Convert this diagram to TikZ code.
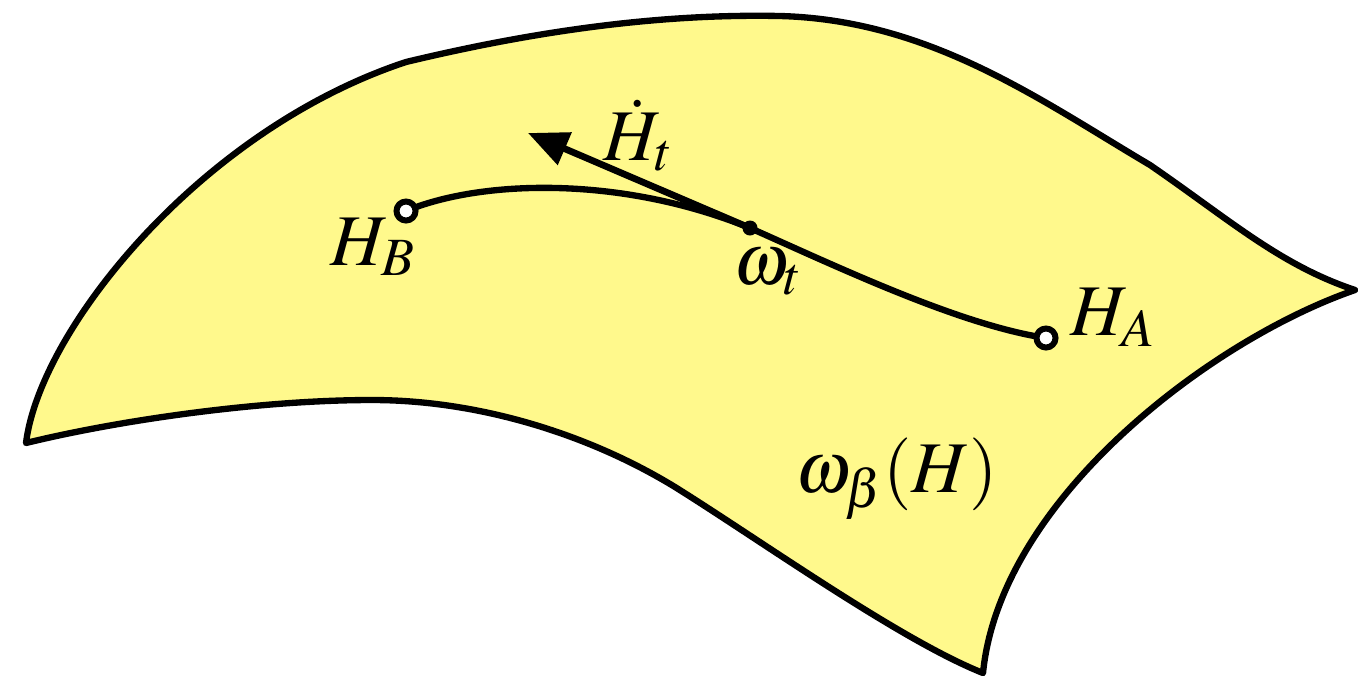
\documentclass[tikz,border=0pt]{standalone}
\usepackage{amsmath,amssymb}
\usepackage{mathptmx}
\usepackage{xcolor}
\usepackage{tikz}
\usetikzlibrary{arrows.meta}

\definecolor{sheet}{RGB}{255,249,140}

\begin{document}
\begin{tikzpicture}[x=0.01cm,y=-0.01cm,
  edge/.style={line width=1.8pt,line join=round},
  endpt/.style={circle,draw,line width=1.7pt,fill=white,inner sep=0pt,minimum size=0.19cm},
  midpt/.style={circle,fill=black,inner sep=0pt,minimum size=0.15cm},
  lbl/.style={inner sep=0pt,anchor=base west,font=\fontsize{20.7}{24}\selectfont},
  arr/.style={-{Triangle[length=0.4cm,width=0.34cm]},line width=1.9pt}]

  \useasboundingbox (0,0) rectangle (1358,675);

  % the surface
  \fill[sheet,draw=black,edge] (406,62)
      .. controls (560,25) and (680,14) .. (780,16)
      .. controls (930,20) and (1040,100) .. (1150,165)
      .. controls (1230,220) and (1280,265) .. (1355,290)
      .. controls (1210,340) and (1000,500) .. (983,673)
      .. controls (900,640) and (760,540) .. (675,487)
      .. controls (590,435) and (480,400) .. (372,400)
      .. controls (260,400) and (120,420) .. (26,443)
      .. controls (40,330) and (200,130) .. (406,62) -- cycle;

  \coordinate (hb) at (406,211);
  \coordinate (wt) at (750,228);
  \coordinate (ha) at (1046,338);
  \coordinate (tip) at (528,133);

  % path through the surface
  \draw[edge] (hb) .. controls (480,180) and (620,175) .. (wt)
                   .. controls (840,268) and (960,325) .. (ha);
  \draw[arr] (wt) -- (tip);

  \node[endpt] (HB) at (hb) {};
  \node[endpt] (HA) at (ha) {};
  \node[midpt] (WT) at (wt) {};

  \node[lbl] (lHB) at (330,265) {$H_B$};
  \node[lbl] (lHA) at (1070,335) {$H_A$};
  \node[lbl] (lWT) at (733,284) {$\omega_t$};
  \node[lbl] (lHt) at (603,160) {$\dot H_t$};
  \node[lbl] (lS)  at (795,492) {$\omega_\beta(H)$};

\end{tikzpicture}
\end{document}
